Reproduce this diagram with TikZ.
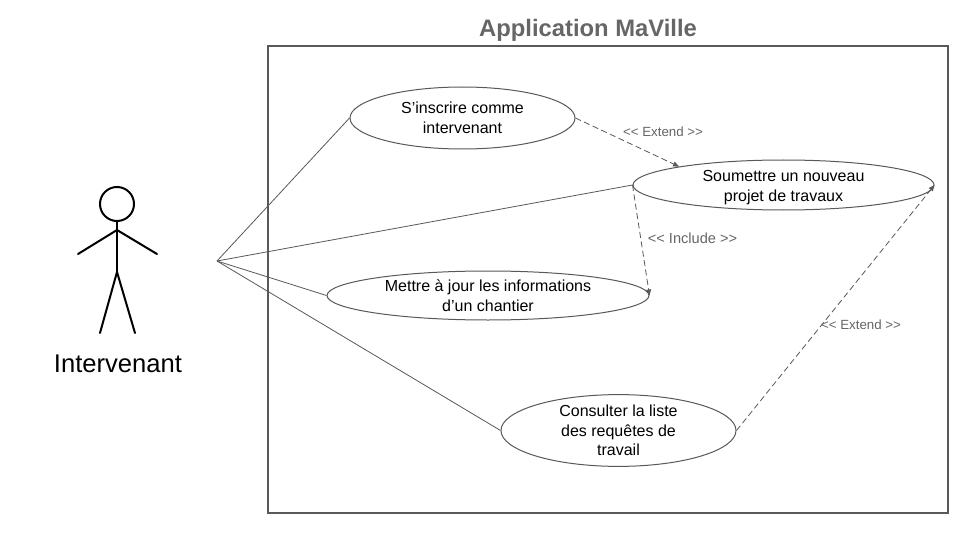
\documentclass[tikz,border=0pt]{standalone}
\usepackage{fontspec}
\setmainfont{Liberation Sans}
\usetikzlibrary{shapes.geometric,arrows.meta}
\definecolor{edgegray}{HTML}{595959}
\definecolor{labelgray}{HTML}{666666}
\newcommand{\ltlt}{{<}{<}}
\newcommand{\gtgt}{{>}{>}}
\tikzset{
  x=1pt,y=-1pt,
  usecase/.style={draw=edgegray,line width=1pt,ellipse,inner sep=0pt,fill=white,align=center,text=black,
    font=\fontsize{16}{19.5}\selectfont},
  casetext/.style={align=center,text=black,inner sep=0pt,font=\fontsize{16}{19.5}\selectfont},
  assoc/.style={draw=edgegray,line width=0.8pt},
  dep/.style={draw=edgegray,line width=0.8pt,dash pattern=on 6pt off 3.5pt,-{Triangle[length=6pt,width=5pt]}},
  deplabel/.style={text=labelgray,font=\fontsize{13.3}{15}\selectfont,inner sep=0pt},
  stick/.style={draw=black,line width=2pt,line cap=round,line join=round},
}
\begin{document}
\begin{tikzpicture}
\useasboundingbox (0,0) rectangle (960,540);
\fill[white] (0,0) rectangle (960,540);
\node[draw=edgegray,line width=1.3pt,minimum width=680pt,minimum height=467pt,inner sep=0pt] (frame) at (608,279.5) {};
\node[text=labelgray,font=\bfseries\fontsize{23.8}{26}\selectfont,inner sep=0pt] (title) at (588,30) {Application MaVille};
\node[usecase,minimum width=225pt,minimum height=62pt] (e1) at (462.5,118) {S’inscrire comme\\intervenant};
\node[usecase,minimum width=301pt,minimum height=50pt] (e2) at (783.5,185) {};
\node[casetext] (e2text) at (783.5,187.5) {Soumettre un nouveau\\projet de travaux};
\node[usecase,minimum width=322pt,minimum height=49pt] (e3) at (488,295.5) {Mettre à jour les informations\\d’un chantier};
\node[usecase,minimum width=235pt,minimum height=66pt] (e4) at (618.5,430.5) {Consulter la liste\\des requêtes de\\travail};
\coordinate (hub) at (217,261);
\draw[assoc] (hub) -- (e1.west);
\draw[assoc] (hub) -- (e2.west);
\draw[assoc] (hub) -- (e3.west);
\draw[assoc] (hub) -- (e4.west);
\draw[dep] (e1.east) -- (e2.170);
\draw[dep] (e2.west) -- (e3.east);
\draw[dep] (e4.east) -- (e2.east);
\node[deplabel] (l1) at (663,132) {\ltlt{} Extend \gtgt};
\node[deplabel,font=\fontsize{14.6}{16}\selectfont] (l2) at (692.5,238.5) {\ltlt{} Include \gtgt};
\node[deplabel] (l3) at (861,324.5) {\ltlt{} Extend \gtgt};
\node[draw=black,line width=2pt,circle,minimum size=34pt,inner sep=0pt] (head) at (117,204) {};
\coordinate (shoulder) at (117,230);
\coordinate (hip) at (117,272);
\coordinate (lhand) at (78,254);
\coordinate (rhand) at (157,254);
\coordinate (lfoot) at (100,333);
\coordinate (rfoot) at (135,333);
\draw[stick] (head.south) -- (hip);
\draw[stick] (lhand) -- (shoulder) -- (rhand);
\draw[stick] (lfoot) -- (hip) -- (rfoot);
\node[text=black,font=\fontsize{25.6}{28}\selectfont,inner sep=0pt] (actor) at (118,364) {Intervenant};
\end{tikzpicture}
\end{document}
